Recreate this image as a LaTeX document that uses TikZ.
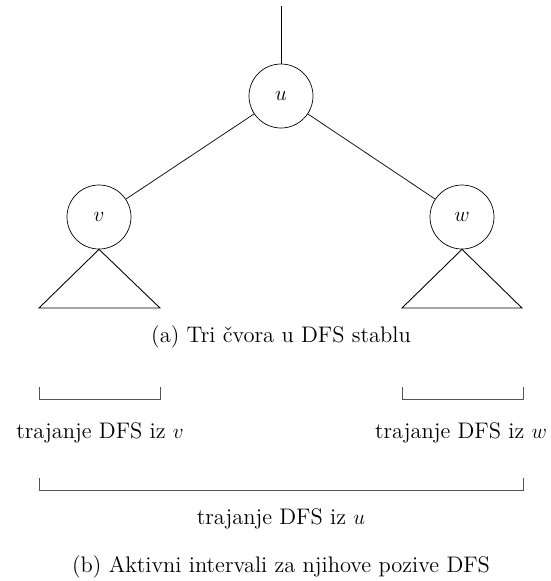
\documentclass[tikz,border=0pt]{standalone}
\usepackage{tikz}
\usetikzlibrary{positioning, calc}

\begin{document}
\begin{tikzpicture}[
        font=\fontsize{12.8}{15.5}\selectfont,
        vertex/.style={circle, draw, minimum size=1.28cm, inner sep=0pt},
        subtree/.style={draw, line width=0.5pt},
        span/.style={draw, line width=0.5pt, gray!65!black}
    ]
    \useasboundingbox (0,0) rectangle (11.02,-11.62);

    % the tree
    \coordinate (top) at (5.62,-0.12);
    \node[vertex] (u) at (5.62,-1.92) {$u$};
    \node[vertex] (v) at (1.98,-4.34) {$v$};
    \node[vertex] (w) at (9.24,-4.34) {$w$};

    \draw (top) -- (u);
    \draw (u) -- (v);
    \draw (u) -- (w);

    % subtrees below v and w
    \coordinate (vl) at (0.78,-6.16);
    \coordinate (vr) at (3.20,-6.16);
    \coordinate (wl) at (8.04,-6.16);
    \coordinate (wr) at (10.44,-6.16);
    \draw[subtree] (v.south) -- (vl) -- (vr) -- cycle;
    \draw[subtree] (w.south) -- (wl) -- (wr) -- cycle;

    \node (capa) at (5.62,-6.74) {(a) Tri čvora u DFS stablu};

    % time intervals
    \coordinate (sv) at (0.78,-7.74);
    \coordinate (ev) at (3.20,-7.74);
    \coordinate (sw) at (8.04,-7.74);
    \coordinate (ew) at (10.46,-7.74);
    \coordinate (su) at (0.78,-9.56);
    \coordinate (eu) at (10.46,-9.56);

    \draw[span] (sv) -- ++(0,-0.24) -| (ev);
    \draw[span] (sw) -- ++(0,-0.24) -| (ew);
    \draw[span] (su) -- ++(0,-0.24) -| (eu);

    \node (lv) at (2.00,-8.66) {trajanje DFS iz $v$};
    \node (lw) at (9.22,-8.66) {trajanje DFS iz $w$};
    \node (lu) at (5.62,-10.38) {trajanje DFS iz $u$};

    \node (capb) at (5.62,-11.34) {(b) Aktivni intervali za njihove pozive DFS};
\end{tikzpicture}
\end{document}
